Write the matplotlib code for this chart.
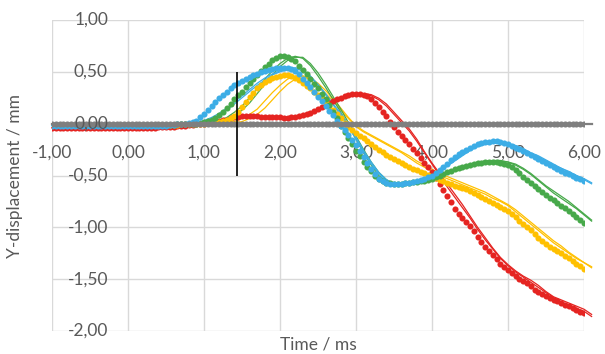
import numpy as np
import matplotlib.pyplot as plt
import matplotlib.transforms as mtransforms

plt.rcParams['font.family'] = ['Lato', 'DejaVu Sans']

# sampling of the measured points (dots) and of the simulated curves (lines)
t_dots = np.round(np.linspace(-1.0, 6.0, 141), 2)
t_lines = np.round(np.linspace(-1.0, 6.1, 72), 2)

# ---- measured (dots), one row = 0.5 ms ----
red_dots = [
    -0.04, -0.04, -0.04, -0.04, -0.04, -0.04, -0.04, -0.04, -0.04, -0.04,
    -0.04, -0.04, -0.04, -0.04, -0.04, -0.04, -0.04, -0.04, -0.04, -0.04,
    -0.04, -0.04, -0.04, -0.04, -0.04, -0.04, -0.04, -0.04, -0.035, -0.035,
    -0.03, -0.03, -0.03, -0.025, -0.02, -0.02, -0.015, -0.01, -0.005, 0.0,
    0.0, 0.01, 0.015, 0.02, 0.03, 0.035, 0.04, 0.05, 0.06, 0.065,
    0.07, 0.07, 0.07, 0.07, 0.07, 0.065, 0.065, 0.06, 0.06, 0.06,
    0.06, 0.055, 0.055, 0.06, 0.065, 0.07, 0.08, 0.09, 0.10, 0.12,
    0.14, 0.16, 0.18, 0.20, 0.22, 0.235, 0.25, 0.265, 0.28, 0.285,
    0.29, 0.29, 0.28, 0.265, 0.24, 0.20, 0.16, 0.115, 0.07, 0.02,
    -0.03, -0.08, -0.12, -0.16, -0.20, -0.24, -0.28, -0.33, -0.38, -0.42,
    -0.47, -0.52, -0.58, -0.64, -0.70, -0.76, -0.82, -0.87, -0.91, -0.95,
    -0.99, -1.04, -1.09, -1.14, -1.19, -1.23, -1.27, -1.31, -1.35, -1.38,
    -1.41, -1.44, -1.47, -1.50, -1.52, -1.54, -1.57, -1.60, -1.62, -1.645,
    -1.665, -1.68, -1.70, -1.715, -1.73, -1.745, -1.76, -1.78, -1.80, -1.815,
    -1.83,
]
yellow_dots = [
    -0.01, -0.01, -0.01, -0.01, -0.01, -0.01, -0.01, -0.01, -0.01, -0.01,
    -0.01, -0.01, -0.01, -0.01, -0.01, -0.01, -0.01, -0.01, -0.01, -0.01,
    -0.01, -0.01, -0.01, -0.01, -0.01, -0.01, -0.01, -0.01, -0.01, -0.01,
    -0.01, -0.01, -0.01, -0.01, -0.005, -0.005, 0.0, 0.0, 0.0, 0.0,
    0.0, 0.005, 0.01, 0.015, 0.02, 0.03, 0.035, 0.05, 0.07, 0.11,
    0.16, 0.21, 0.26, 0.30, 0.34, 0.37, 0.40, 0.42, 0.44, 0.45,
    0.46, 0.47, 0.47, 0.46, 0.44, 0.42, 0.39, 0.365, 0.34, 0.31,
    0.28, 0.245, 0.21, 0.17, 0.13, 0.09, 0.05, 0.01, -0.03, -0.06,
    -0.09, -0.115, -0.14, -0.17, -0.20, -0.225, -0.25, -0.275, -0.30, -0.32,
    -0.34, -0.36, -0.38, -0.40, -0.42, -0.435, -0.45, -0.465, -0.48, -0.495,
    -0.51, -0.525, -0.54, -0.555, -0.57, -0.585, -0.60, -0.61, -0.62, -0.635,
    -0.65, -0.67, -0.69, -0.71, -0.73, -0.75, -0.77, -0.785, -0.80, -0.82,
    -0.84, -0.87, -0.90, -0.935, -0.97, -1.00, -1.03, -1.065, -1.10, -1.13,
    -1.16, -1.185, -1.21, -1.23, -1.25, -1.275, -1.30, -1.325, -1.35, -1.375,
    -1.40,
]
green_dots = [
    -0.01, -0.01, -0.01, -0.01, -0.01, -0.01, -0.01, -0.01, -0.01, -0.01,
    -0.01, -0.01, -0.01, -0.01, -0.01, -0.01, -0.01, -0.01, -0.01, -0.01,
    -0.01, -0.01, -0.01, -0.01, -0.01, -0.01, -0.01, -0.01, -0.01, -0.01,
    -0.01, -0.01, -0.01, -0.005, -0.005, 0.0, 0.0, 0.0, 0.0, 0.01,
    0.02, 0.03, 0.04, 0.05, 0.08, 0.11, 0.15, 0.19, 0.24, 0.28,
    0.31, 0.35, 0.39, 0.43, 0.47, 0.51, 0.55, 0.58, 0.61, 0.63,
    0.65, 0.65, 0.64, 0.62, 0.60, 0.56, 0.52, 0.48, 0.43, 0.385,
    0.34, 0.29, 0.24, 0.18, 0.11, 0.05, -0.02, -0.08, -0.14, -0.20,
    -0.26, -0.315, -0.37, -0.415, -0.46, -0.50, -0.53, -0.55, -0.57, -0.575,
    -0.58, -0.58, -0.58, -0.575, -0.57, -0.565, -0.56, -0.555, -0.55, -0.54,
    -0.53, -0.515, -0.50, -0.485, -0.47, -0.455, -0.44, -0.43, -0.42, -0.41,
    -0.40, -0.39, -0.38, -0.375, -0.37, -0.37, -0.37, -0.37, -0.38, -0.39,
    -0.40, -0.42, -0.45, -0.48, -0.51, -0.54, -0.57, -0.60, -0.63, -0.66,
    -0.69, -0.715, -0.74, -0.765, -0.79, -0.815, -0.84, -0.87, -0.90, -0.93,
    -0.96,
]
blue_dots = [
    -0.02, -0.02, -0.02, -0.02, -0.02, -0.02, -0.02, -0.02, -0.02, -0.02,
    -0.02, -0.02, -0.02, -0.02, -0.02, -0.02, -0.02, -0.02, -0.02, -0.02,
    -0.02, -0.02, -0.02, -0.02, -0.02, -0.02, -0.02, -0.02, -0.02, -0.02,
    -0.02, -0.015, -0.01, -0.005, 0.0, 0.0, 0.005, 0.015, 0.03, 0.06,
    0.09, 0.13, 0.17, 0.21, 0.25, 0.28, 0.31, 0.34, 0.37, 0.39,
    0.41, 0.43, 0.45, 0.465, 0.48, 0.495, 0.51, 0.52, 0.53, 0.535,
    0.54, 0.54, 0.535, 0.525, 0.51, 0.48, 0.43, 0.39, 0.35, 0.305,
    0.26, 0.215, 0.17, 0.125, 0.08, 0.03, -0.02, -0.065, -0.11, -0.16,
    -0.21, -0.265, -0.32, -0.38, -0.44, -0.49, -0.53, -0.55, -0.57, -0.58,
    -0.58, -0.585, -0.58, -0.575, -0.57, -0.56, -0.55, -0.54, -0.53, -0.515,
    -0.50, -0.475, -0.45, -0.42, -0.39, -0.355, -0.32, -0.295, -0.27, -0.25,
    -0.23, -0.215, -0.20, -0.19, -0.18, -0.175, -0.17, -0.17, -0.18, -0.19,
    -0.20, -0.215, -0.23, -0.245, -0.26, -0.28, -0.30, -0.32, -0.34, -0.36,
    -0.38, -0.40, -0.42, -0.44, -0.46, -0.475, -0.49, -0.505, -0.52, -0.535,
    -0.55,
]
gray_dots = [
    0.0, -0.005, 0.0, 0.0, -0.005, 0.0, 0.0, -0.005, 0.0, 0.0,
    0.0, -0.005, 0.0, 0.0, -0.005, 0.0, 0.0, -0.005, 0.0, 0.0,
    0.0, -0.005, 0.0, 0.0, -0.005, 0.0, 0.0, -0.005, 0.0, 0.0,
    0.0, -0.005, 0.0, 0.0, -0.005, 0.0, 0.0, -0.005, 0.0, 0.0,
    0.0, -0.005, 0.0, 0.0, -0.005, 0.0, 0.0, -0.005, 0.0, 0.0,
    0.0, -0.005, 0.0, 0.0, -0.005, 0.0, 0.0, -0.005, 0.0, 0.0,
    0.0, -0.005, 0.0, 0.0, -0.005, 0.0, 0.0, -0.005, 0.0, 0.0,
    0.0, -0.005, 0.0, 0.0, -0.005, 0.0, 0.0, -0.005, 0.0, 0.0,
    0.0, -0.005, 0.0, 0.0, -0.005, 0.0, 0.0, -0.005, 0.0, 0.0,
    0.0, -0.005, 0.0, 0.0, -0.005, 0.0, 0.0, -0.005, 0.0, 0.0,
    0.0, -0.005, 0.0, 0.0, -0.005, 0.0, 0.0, -0.005, 0.0, 0.0,
    0.0, -0.005, 0.0, 0.0, -0.005, 0.0, 0.0, -0.005, 0.0, 0.0,
    0.0, -0.005, 0.0, 0.0, -0.005, 0.0, 0.0, -0.005, 0.0, 0.0,
    0.0, -0.005, 0.0, 0.0, -0.005, 0.0, 0.0, -0.005, 0.0, 0.0,
    0.0,
]

# ---- simulated (thin lines), one row = 1 ms, then 6.0 and 6.1 ----
red_line_a = [
    -0.04, -0.04, -0.04, -0.04, -0.04, -0.04, -0.04, -0.04, -0.04, -0.04,
    -0.04, -0.04, -0.04, -0.04, -0.035, -0.03, -0.03, -0.02, -0.015, -0.005,
    0.0, 0.01, 0.025, 0.04, 0.055, 0.065, 0.065, 0.065, 0.06, 0.06,
    0.06, 0.06, 0.065, 0.075, 0.095, 0.13, 0.17, 0.21, 0.245, 0.27,
    0.285, 0.29, 0.28, 0.245, 0.19, 0.11, 0.03, -0.05, -0.15, -0.27,
    -0.38, -0.48, -0.58, -0.68, -0.78, -0.89, -1.00, -1.10, -1.20, -1.29,
    -1.36, -1.42, -1.47, -1.51, -1.56, -1.62, -1.67, -1.70, -1.73, -1.76,
    -1.79, -1.84,
]
red_line_b = [
    -0.04, -0.04, -0.04, -0.04, -0.04, -0.04, -0.04, -0.04, -0.04, -0.04,
    -0.04, -0.04, -0.04, -0.04, -0.035, -0.03, -0.025, -0.02, -0.01, 0.0,
    0.005, 0.015, 0.03, 0.045, 0.06, 0.07, 0.07, 0.07, 0.065, 0.065,
    0.065, 0.065, 0.07, 0.08, 0.10, 0.135, 0.175, 0.215, 0.25, 0.275,
    0.28, 0.285, 0.27, 0.23, 0.17, 0.09, 0.01, -0.07, -0.17, -0.28,
    -0.39, -0.50, -0.61, -0.71, -0.81, -0.91, -1.02, -1.12, -1.21, -1.30,
    -1.37, -1.43, -1.48, -1.53, -1.58, -1.63, -1.68, -1.72, -1.75, -1.78,
    -1.81, -1.86,
]
yellow_line_a = [
    -0.01, -0.01, -0.01, -0.01, -0.01, -0.01, -0.01, -0.01, -0.01, -0.01,
    -0.01, -0.01, -0.01, -0.01, -0.01, -0.01, -0.005, -0.005, 0.0, 0.0,
    0.0, 0.0, 0.005, 0.01, 0.02, 0.05, 0.09, 0.14, 0.22, 0.30,
    0.37, 0.43, 0.46, 0.46, 0.42, 0.36, 0.29, 0.22, 0.13, 0.05,
    -0.03, -0.08, -0.12, -0.16, -0.20, -0.24, -0.28, -0.33, -0.38, -0.42,
    -0.46, -0.50, -0.53, -0.56, -0.59, -0.62, -0.65, -0.68, -0.72, -0.75,
    -0.79, -0.85, -0.91, -0.97, -1.03, -1.09, -1.15, -1.20, -1.25, -1.30,
    -1.34, -1.39,
]
yellow_line_b = [
    -0.01, -0.01, -0.01, -0.01, -0.01, -0.01, -0.01, -0.01, -0.01, -0.01,
    -0.01, -0.01, -0.01, -0.01, -0.01, -0.01, -0.01, -0.005, -0.005, 0.0,
    0.0, 0.0, 0.0, 0.005, 0.01, 0.02, 0.05, 0.09, 0.15, 0.23,
    0.31, 0.38, 0.43, 0.46, 0.44, 0.39, 0.32, 0.24, 0.15, 0.06,
    -0.02, -0.07, -0.11, -0.15, -0.19, -0.23, -0.27, -0.31, -0.36, -0.40,
    -0.44, -0.48, -0.51, -0.54, -0.57, -0.60, -0.63, -0.66, -0.70, -0.74,
    -0.78, -0.83, -0.89, -0.95, -1.01, -1.07, -1.13, -1.18, -1.24, -1.29,
    -1.34, -1.38,
]
green_line_a = [
    -0.01, -0.01, -0.01, -0.01, -0.01, -0.01, -0.01, -0.01, -0.01, -0.01,
    -0.01, -0.01, -0.01, -0.01, -0.01, -0.01, -0.005, 0.0, 0.0, 0.005,
    0.0, 0.01, 0.03, 0.06, 0.11, 0.17, 0.25, 0.34, 0.43, 0.51,
    0.58, 0.63, 0.65, 0.63, 0.56, 0.46, 0.35, 0.23, 0.11, -0.02,
    -0.15, -0.28, -0.40, -0.50, -0.56, -0.59, -0.59, -0.58, -0.57, -0.55,
    -0.53, -0.50, -0.47, -0.44, -0.41, -0.39, -0.37, -0.36, -0.355, -0.355,
    -0.37, -0.40, -0.44, -0.49, -0.55, -0.61, -0.67, -0.72, -0.77, -0.82,
    -0.88, -0.94,
]
green_line_b = [
    -0.01, -0.01, -0.01, -0.01, -0.01, -0.01, -0.01, -0.01, -0.01, -0.01,
    -0.01, -0.01, -0.01, -0.01, -0.01, -0.01, -0.01, -0.005, 0.0, 0.0,
    0.0, 0.01, 0.02, 0.04, 0.08, 0.13, 0.20, 0.29, 0.38, 0.47,
    0.55, 0.61, 0.64, 0.64, 0.58, 0.49, 0.38, 0.26, 0.14, 0.01,
    -0.12, -0.25, -0.37, -0.47, -0.54, -0.58, -0.59, -0.58, -0.57, -0.55,
    -0.53, -0.50, -0.47, -0.44, -0.42, -0.40, -0.38, -0.37, -0.36, -0.36,
    -0.37, -0.39, -0.43, -0.48, -0.54, -0.60, -0.65, -0.70, -0.75, -0.81,
    -0.87, -0.93,
]
blue_line_a = [
    -0.02, -0.02, -0.02, -0.02, -0.02, -0.02, -0.02, -0.02, -0.02, -0.02,
    -0.02, -0.02, -0.02, -0.02, -0.02, -0.02, -0.015, -0.01, -0.005, 0.01,
    0.03, 0.06, 0.10, 0.15, 0.21, 0.27, 0.33, 0.39, 0.44, 0.48,
    0.51, 0.53, 0.54, 0.52, 0.46, 0.38, 0.29, 0.19, 0.10, -0.01,
    -0.13, -0.26, -0.37, -0.47, -0.54, -0.58, -0.59, -0.58, -0.56, -0.54,
    -0.50, -0.46, -0.41, -0.36, -0.31, -0.26, -0.22, -0.20, -0.19, -0.19,
    -0.20, -0.22, -0.25, -0.29, -0.32, -0.36, -0.40, -0.43, -0.46, -0.50,
    -0.53, -0.57,
]
blue_line_b = [
    -0.02, -0.02, -0.02, -0.02, -0.02, -0.02, -0.02, -0.02, -0.02, -0.02,
    -0.02, -0.02, -0.02, -0.02, -0.02, -0.02, -0.02, -0.015, -0.01, 0.0,
    0.02, 0.05, 0.08, 0.13, 0.19, 0.25, 0.31, 0.37, 0.42, 0.47,
    0.50, 0.52, 0.53, 0.51, 0.45, 0.37, 0.28, 0.18, 0.08, -0.03,
    -0.15, -0.28, -0.39, -0.48, -0.55, -0.58, -0.59, -0.58, -0.56, -0.53,
    -0.49, -0.45, -0.40, -0.35, -0.30, -0.25, -0.22, -0.19, -0.18, -0.18,
    -0.19, -0.21, -0.24, -0.28, -0.31, -0.35, -0.39, -0.43, -0.47, -0.50,
    -0.54, -0.58,
]
gray_line = [
    0.0, 0.0, 0.0, 0.0, 0.0, 0.0, 0.0, 0.0, 0.0, 0.0,
    0.0, 0.0, 0.0, 0.0, 0.0, 0.0, 0.0, 0.0, 0.0, 0.0,
    0.0, 0.0, 0.0, 0.0, 0.0, 0.0, 0.0, 0.0, 0.0, 0.0,
    0.0, 0.0, 0.0, 0.0, 0.0, 0.0, 0.0, 0.0, 0.0, 0.0,
    0.0, 0.0, 0.0, 0.0, 0.0, 0.0, 0.0, 0.0, 0.0, 0.0,
    0.0, 0.0, 0.0, 0.0, 0.0, 0.0, 0.0, 0.0, 0.0, 0.0,
    0.0, 0.0, 0.0, 0.0, 0.0, 0.0, 0.0, 0.0, 0.0, 0.0,
    0.0, 0.0,
]

# vertical marker line (time in ms, y extent in mm)
marker_time = 1.43
marker_ymin, marker_ymax = -0.5, 0.5

x_ticks = [-1, 0, 1, 2, 3, 4, 5, 6]
x_tick_labels = ['-1,00', '0,00', '1,00', '2,00', '3,00', '4,00', '5,00', '6,00']
y_ticks = [1.0, 0.5, 0.0, -0.5, -1.0, -1.5, -2.0]
y_tick_labels = ['1,00', '0,50', '0,00', '-0,50', '-1,00', '-1,50', '-2,00']

RED = '#E52421'
YELLOW = '#FFC000'
GREEN = '#47A94A'
BLUE = '#3CADE6'
GRAY = '#7F7F7F'
TXT = '#595959'

fig = plt.figure(figsize=(6.05, 3.54), dpi=100)
ax = fig.add_axes([52 / 605, 23 / 354, 532 / 605, 311 / 354])

lines = [(red_line_a, RED), (red_line_b, RED), (yellow_line_a, YELLOW), (yellow_line_b, YELLOW),
         (green_line_a, GREEN), (green_line_b, GREEN), (blue_line_a, BLUE), (blue_line_b, BLUE)]
for y, c in lines:
    ax.plot(t_lines, y, color=c, lw=0.9, clip_on=False, zorder=2)

for y, c in [(red_dots, RED), (yellow_dots, YELLOW), (green_dots, GREEN), (blue_dots, BLUE)]:
    ax.plot(t_dots, y, ls='none', marker='o', ms=4.4, mew=0, color=c, zorder=3)

ax.plot(t_lines, gray_line, color=GRAY, lw=1.6, clip_on=False, zorder=4)
ax.plot(t_dots, gray_dots, ls='none', marker='o', ms=4.4, mew=0, color=GRAY, zorder=4)

ax.vlines(marker_time, marker_ymin, marker_ymax, color='black', lw=1.2, zorder=5)

ax.set_xlim(-1, 6)
ax.set_ylim(-2, 1)
ax.set_xticks(x_ticks)
ax.set_xticklabels(x_tick_labels)
ax.set_yticks(y_ticks)
ax.set_yticklabels([])

ax.spines['bottom'].set_position(('data', 0))
for s in ax.spines.values():
    s.set_color('none')
ax.grid(True, color='#D9D9D9', lw=1.0)
ax.tick_params(axis='both', length=0, labelsize=12.5, labelcolor=TXT)
ax.tick_params(axis='x', pad=15)

# value labels sit next to the vertical axis at x = 0, drawn over the data
ylab_trans = mtransforms.offset_copy(ax.transData, fig=fig, x=-20, y=0, units='dots')
for yv, lab in zip(y_ticks, y_tick_labels):
    ax.text(0, yv, lab, transform=ylab_trans, ha='right', va='center',
            fontsize=12.5, color=TXT, zorder=6, clip_on=False)

fig.text(15 / 605, 1 - 176 / 354, 'Y-displacement / mm', rotation=90,
         ha='center', va='center', fontsize=12.5, color=TXT)
fig.text(318 / 605, 1 - 345 / 354, 'Time / ms', ha='center', va='center',
         fontsize=12.5, color=TXT)

fig.savefig('out.png', dpi=100)
